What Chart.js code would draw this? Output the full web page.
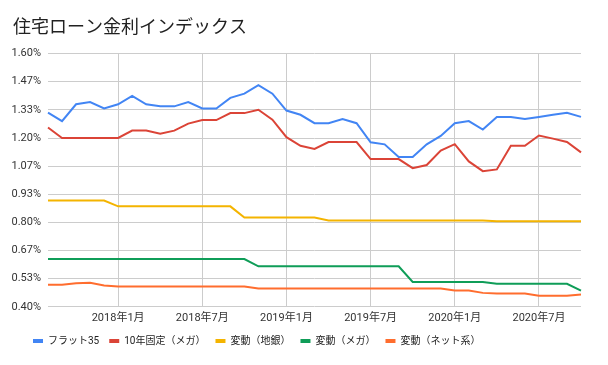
<!DOCTYPE html>
<html>
<head>
<meta charset="utf-8">
<script src="https://cdn.jsdelivr.net/npm/chart.js@4.4.0/dist/chart.umd.min.js"></script>
<style>
  html, body { margin: 0; padding: 0; background: #ffffff; }
  #wrap { width: 608px; height: 365px; }
</style>
</head>
<body>
<div id="wrap"><canvas id="c" width="608" height="365"></canvas></div>
<script>
// ---- data ----
const months = [
  '2017年8月','2017年9月','2017年10月','2017年11月','2017年12月',
  '2018年1月','2018年2月','2018年3月','2018年4月','2018年5月','2018年6月',
  '2018年7月','2018年8月','2018年9月','2018年10月','2018年11月','2018年12月',
  '2019年1月','2019年2月','2019年3月','2019年4月','2019年5月','2019年6月',
  '2019年7月','2019年8月','2019年9月','2019年10月','2019年11月','2019年12月',
  '2020年1月','2020年2月','2020年3月','2020年4月','2020年5月','2020年6月',
  '2020年7月','2020年8月','2020年9月','2020年10月'
];
const xTickMonths = ['2018年1月','2018年7月','2019年1月','2019年7月','2020年1月','2020年7月'];
const yTicks = [0.40, 0.5333, 0.6667, 0.80, 0.9333, 1.0667, 1.20, 1.3333, 1.4667, 1.60];

const flat35 = [1.32,1.28,1.36,1.37,1.34,1.36,1.40,1.36,1.35,1.35,1.37,1.34,1.34,1.39,1.41,1.45,1.41,1.33,1.31,1.27,1.27,1.29,1.27,1.18,1.17,1.11,1.11,1.17,1.21,1.27,1.28,1.24,1.30,1.30,1.29,1.30,1.31,1.32,1.30];
const fixed10Mega = [1.25,1.20,1.20,1.20,1.20,1.20,1.235,1.235,1.22,1.235,1.268,1.285,1.285,1.318,1.318,1.334,1.287,1.204,1.163,1.148,1.181,1.181,1.181,1.10,1.10,1.10,1.057,1.072,1.14,1.171,1.089,1.043,1.051,1.163,1.163,1.212,1.197,1.181,1.132];
const varRegional = [0.904,0.904,0.904,0.904,0.904,0.876,0.876,0.876,0.876,0.876,0.876,0.876,0.876,0.876,0.823,0.823,0.823,0.823,0.823,0.823,0.809,0.809,0.809,0.809,0.809,0.809,0.809,0.809,0.809,0.809,0.809,0.809,0.806,0.806,0.806,0.806,0.806,0.806,0.806];
const varMega = [0.626,0.626,0.626,0.626,0.626,0.626,0.626,0.626,0.626,0.626,0.626,0.626,0.626,0.626,0.626,0.592,0.592,0.592,0.592,0.592,0.592,0.592,0.592,0.592,0.592,0.592,0.518,0.518,0.518,0.518,0.518,0.518,0.509,0.509,0.509,0.509,0.509,0.509,0.477];
const varNet = [0.504,0.504,0.512,0.514,0.501,0.496,0.496,0.496,0.496,0.496,0.496,0.496,0.496,0.496,0.496,0.487,0.487,0.487,0.487,0.487,0.487,0.487,0.487,0.487,0.487,0.487,0.487,0.487,0.487,0.477,0.477,0.466,0.463,0.463,0.463,0.452,0.452,0.452,0.458];

const seriesNames = ['フラット35','10年固定（メガ）','変動（地銀）','変動（メガ）','変動（ネット系）'];
const seriesColors = ['#4285F4','#DB4437','#F4B400','#0F9D58','#FF6D2E'];
const seriesData = [flat35, fixed10Mega, varRegional, varMega, varNet];

// ---- chart ----
Chart.defaults.font.family = "Roboto, 'Noto Sans CJK JP', sans-serif";
Chart.defaults.color = '#333333';

const shiftPlugin = {
  id: 'shiftBoxes',
  afterLayout(chart) {
    const t = chart.titleBlock;
    if (t) { t.left += 13; t.right += 13; }
    const l = chart.legend;
    if (l) { l.left += 23; l.right += 23; l.top -= 4; l.bottom -= 4; }
  }
};

new Chart(document.getElementById('c'), {
  type: 'line',
  data: {
    labels: months,
    datasets: seriesData.map((d, i) => ({
      label: seriesNames[i],
      data: d,
      borderColor: seriesColors[i],
      backgroundColor: seriesColors[i],
      borderWidth: 2,
      pointRadius: 0,
      tension: 0,
      fill: false,
      order: i
    }))
  },
  options: {
    responsive: false,
    devicePixelRatio: 1,
    animation: false,
    layout: { padding: { left: 0, right: 27, top: 0, bottom: 5 } },
    plugins: {
      title: {
        display: true,
        text: '住宅ローン金利インデックス',
        align: 'start',
        color: '#212121',
        font: { family: "'Noto Sans CJK JP', sans-serif", size: 18, weight: 'normal' },
        padding: { top: 15, bottom: 17 }
      },
      legend: {
        display: true,
        position: 'bottom',
        align: 'start',
        labels: {
          boxWidth: 10,
          boxHeight: 4,
          padding: 10,
          color: '#222222',
          font: { size: 10 },
          generateLabels(chart) {
            return Chart.defaults.plugins.legend.labels.generateLabels(chart)
              .map(l => Object.assign(l, { lineWidth: 0 }));
          }
        }
      },
      tooltip: { enabled: false }
    },
    scales: {
      x: {
        type: 'category',
        offset: false,
        border: { display: false },
        grid: {
          drawTicks: false,
          lineWidth: 1,
          color: (ctx) => {
            const lab = months[ctx.index];
            return xTickMonths.includes(lab) ? '#cccccc' : 'rgba(0,0,0,0)';
          }
        },
        ticks: {
          autoSkip: false,
          maxRotation: 0,
          minRotation: 0,
          padding: 5,
          color: '#333333',
          font: { size: 11 },
          callback: function (value, index) {
            const lab = months[index];
            return xTickMonths.includes(lab) ? lab : '';
          }
        }
      },
      y: {
        min: 0.40,
        max: 1.60,
        border: { display: false },
        afterFit(scale) { scale.width = 48; },
        afterBuildTicks(scale) { scale.ticks = yTicks.map(v => ({ value: v })); },
        grid: { drawTicks: false, color: '#cccccc', lineWidth: 1 },
        ticks: {
          padding: 7,
          color: '#333333',
          font: { size: 11 },
          callback: (v) => Number(v).toFixed(2) + '%'
        }
      }
    }
  },
  plugins: [shiftPlugin]
});
</script>
</body>
</html>
